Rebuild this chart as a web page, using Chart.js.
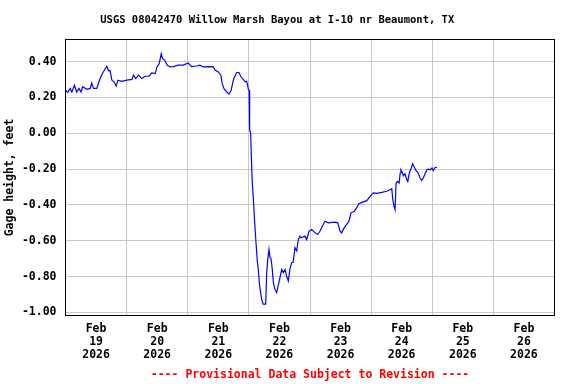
<!DOCTYPE html>
<html>
<head>
<meta charset="utf-8">
<script src="https://cdn.jsdelivr.net/npm/chart.js@4"></script>
<style>
  body { margin: 0; background: #fff; }
  canvas { display: block; }
</style>
</head>
<body>
<canvas id="gage" width="576" height="384"></canvas>
<script>
// hours since Feb 19 2026 00:00, gage height in feet
const hours = [
  0, 0.9, 1.8, 2.5, 3.5, 4.4, 5.3, 6.1, 6.7, 8.4, 9.7, 10.3, 11.0, 12.3, 13.0, 13.6, 14.5, 15.6, 16.2, 16.9,
  17.5, 18.2, 19.1, 19.9, 20.6, 22.1, 24.1, 26.1, 26.7, 27.6, 28.7, 30.0, 31.3, 32.8, 33.9, 35.2, 35.9, 36.8, 37.6, 38.1,
  39.0, 39.9, 41.0, 42.3, 44.2, 46.2, 48.2, 49.5, 51.5, 52.8, 54.1, 56.7, 58.0, 58.7, 60.0, 61.0, 61.5, 62.2, 63.3, 64.2,
  65.0, 65.6, 66.1, 67.2, 68.1, 68.9, 69.8, 70.5, 71.1, 71.5, 71.8, 72.1, 72.3, 72.7, 73.1, 73.3, 73.7, 74.1, 74.5, 74.8,
  75.3, 75.7, 76.1, 76.6, 77.0, 77.6, 78.6, 79.0, 79.4, 79.9, 80.3, 80.7, 81.2, 81.6, 82.2, 82.9, 83.5, 84.2, 84.9, 85.5,
  86.2, 86.8, 87.5, 88.1, 88.8, 89.4, 90.1, 90.8, 91.4, 92.1, 92.5, 94.0, 94.7, 95.6, 96.7, 98.0, 99.0, 99.9, 101.2, 101.9,
  103.2, 105.8, 106.9, 107.8, 108.4, 109.4, 110.4, 111.3, 112.1, 113.4, 114.3, 115.2, 116.3, 118.3, 119.6, 120.9, 122.2, 124.2, 126.1, 127.4,
  128.1, 128.5, 129.0, 129.4, 129.8, 130.3, 131.0, 131.4, 131.7, 132.3, 132.7, 133.3, 134.0, 134.4, 135.0, 135.6, 136.3, 136.8, 137.6, 138.5,
  139.2, 139.9, 140.5, 141.2, 141.9, 142.5, 143.2, 143.9, 144.4, 145.1, 145.8
];
const gageHeight = [
  0.24, 0.228, 0.25, 0.23, 0.268, 0.23, 0.25, 0.23, 0.26, 0.245, 0.25, 0.28, 0.25, 0.25, 0.28, 0.305, 0.333, 0.36, 0.374, 0.348,
  0.35, 0.296, 0.287, 0.263, 0.296, 0.29, 0.296, 0.30, 0.324, 0.305, 0.324, 0.305, 0.318, 0.318, 0.337, 0.333, 0.37, 0.389, 0.444, 0.417,
  0.407, 0.38, 0.37, 0.372, 0.38, 0.38, 0.392, 0.372, 0.375, 0.38, 0.37, 0.372, 0.37, 0.352, 0.342, 0.324, 0.278, 0.25, 0.23, 0.218,
  0.237, 0.278, 0.305, 0.339, 0.339, 0.315, 0.30, 0.287, 0.29, 0.268, 0.244, 0.24, 0.02, 0.0, -0.185, -0.269, -0.352, -0.454, -0.547, -0.611,
  -0.713, -0.76, -0.833, -0.889, -0.926, -0.954, -0.954, -0.778, -0.704, -0.648, -0.694, -0.70, -0.76, -0.833, -0.87, -0.889, -0.852, -0.806, -0.76, -0.778,
  -0.76, -0.797, -0.824, -0.76, -0.722, -0.72, -0.639, -0.657, -0.593, -0.574, -0.583, -0.574, -0.593, -0.547, -0.537, -0.556, -0.565, -0.547, -0.509, -0.491,
  -0.50, -0.496, -0.50, -0.547, -0.556, -0.528, -0.509, -0.491, -0.444, -0.435, -0.417, -0.393, -0.386, -0.376, -0.352, -0.333, -0.335, -0.33, -0.324, -0.315,
  -0.31, -0.37, -0.408, -0.426, -0.278, -0.269, -0.278, -0.222, -0.204, -0.222, -0.237, -0.226, -0.259, -0.269, -0.222, -0.20, -0.171, -0.186, -0.208, -0.222,
  -0.25, -0.263, -0.25, -0.226, -0.204, -0.20, -0.204, -0.194, -0.208, -0.191, -0.19
];

const monthLabel = 'Feb';
const yearLabel = '2026';
const dayLabels = ['19', '20', '21', '22', '23', '24', '25', '26'];
const yTicks = [-1.0, -0.8, -0.6, -0.4, -0.2, 0.0, 0.2, 0.4];

const FONT = "'DejaVu Sans Mono', monospace";

// black frame round the plot area
const frame = {
  id: 'frame',
  afterDraw(chart) {
    const a = chart.chartArea;
    const c = chart.ctx;
    c.save();
    c.strokeStyle = '#000';
    c.lineWidth = 1;
    const l = Math.floor(a.left) + 0.5, t = Math.floor(a.top) + 0.5;
    const r = Math.floor(a.right) + 0.5, b = Math.floor(a.bottom) + 0.5;
    c.strokeRect(l, t, r - l, b - t);
    c.restore();
  }
};

new Chart(document.getElementById('gage'), {
  type: 'line',
  data: {
    datasets: [{
      data: hours.map((h, i) => ({ x: h, y: gageHeight[i] })),
      borderColor: '#0000ff',
      borderWidth: 1.2,
      pointRadius: 0,
      tension: 0,
      fill: false
    }]
  },
  plugins: [frame],
  options: {
    responsive: false,
    animation: false,
    devicePixelRatio: 1,
    layout: { padding: { top: 0, right: 21.5, bottom: 0, left: 0 } },
    plugins: {
      legend: { display: false },
      tooltip: { enabled: false },
      title: {
        display: true,
        text: 'USGS 08042470 Willow Marsh Bayou at I-10 nr Beaumont, TX',
        color: '#000',
        font: { family: FONT, size: 10.5, weight: 'bold', lineHeight: 1.2 },
        padding: { top: 13.7, bottom: 13.2 }
      }
    },
    scales: {
      x: {
        type: 'linear',
        min: 0,
        max: 192,
        border: { display: false },
        afterBuildTicks(scale) {
          const t = [];
          for (let v = 0; v <= 192; v += 12) t.push({ value: v });
          scale.ticks = t;
        },
        afterFit(scale) { scale.height = 68.5; },
        grid: {
          drawTicks: false,
          lineWidth: 1,
          color: ctx => (ctx.tick && ctx.tick.value % 24 === 0) ? '#c8c8c8' : 'rgba(0,0,0,0)'
        },
        ticks: {
          autoSkip: false,
          maxRotation: 0,
          padding: 7.5,
          color: '#000',
          font: { family: FONT, size: 11.5, weight: 'bold', lineHeight: 1.13 },
          callback(v) {
            if (v % 24 !== 12) return '';
            return [monthLabel, dayLabels[(v - 12) / 24], yearLabel];
          }
        },
        title: {
          display: true,
          text: '---- Provisional Data Subject to Revision ----',
          color: '#ff0000',
          font: { family: FONT, size: 11.5, weight: 'bold', lineHeight: 1.13 },
          padding: { top: 0, bottom: 2.5 }
        }
      },
      y: {
        min: -1.017,
        max: 0.523,
        border: { display: false },
        afterBuildTicks(scale) {
          scale.ticks = yTicks.map(v => ({ value: v }));
        },
        afterFit(scale) { scale.width = 65.5; },
        grid: { drawTicks: false, color: '#c8c8c8', lineWidth: 1 },
        ticks: {
          padding: 9,
          color: '#000',
          font: { family: FONT, size: 11.5, weight: 'bold' },
          callback: v => v.toFixed(2)
        },
        title: {
          display: true,
          text: 'Gage height, feet',
          color: '#000',
          font: { family: FONT, size: 11.5, weight: 'bold', lineHeight: 1.13 },
          padding: { top: 4, bottom: 4 }
        }
      }
    }
  }
});
</script>
</body>
</html>
